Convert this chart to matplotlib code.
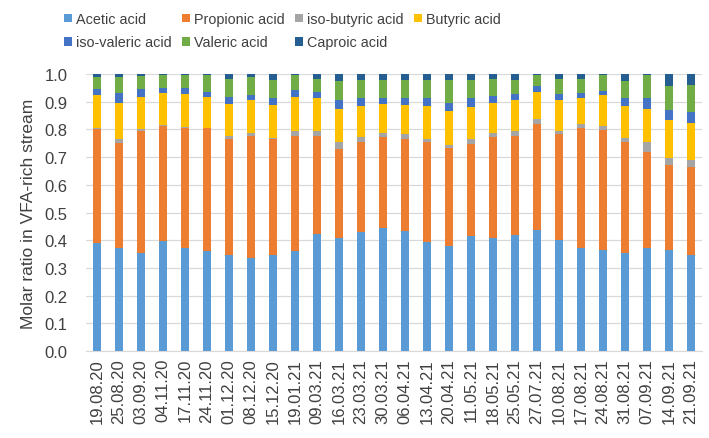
import matplotlib
matplotlib.use("Agg")
import matplotlib.pyplot as plt
import numpy as np

plt.rcParams["font.family"] = ["Liberation Sans", "DejaVu Sans"]

# ---------------------------------------------------------------
# Données
# ---------------------------------------------------------------
dates = ["19.08.20", "25.08.20", "03.09.20", "04.11.20", "17.11.20", "24.11.20",
         "01.12.20", "08.12.20", "15.12.20", "19.01.21", "09.03.21", "16.03.21",
         "23.03.21", "30.03.21", "06.04.21", "13.04.21", "20.04.21", "11.05.21",
         "18.05.21", "25.05.21", "27.07.21", "10.08.21", "17.08.21", "24.08.21",
         "31.08.21", "07.09.21", "14.09.21", "21.09.21"]

acetic = [0.390, 0.372, 0.355, 0.399, 0.372, 0.360, 0.348, 0.336, 0.348, 0.360,
          0.422, 0.410, 0.429, 0.445, 0.433, 0.394, 0.379, 0.415, 0.410, 0.418,
          0.436, 0.402, 0.372, 0.364, 0.355, 0.372, 0.366, 0.348]
propionic = [0.412, 0.380, 0.441, 0.413, 0.434, 0.444, 0.419, 0.442, 0.416, 0.416,
             0.356, 0.320, 0.325, 0.327, 0.333, 0.360, 0.354, 0.333, 0.362, 0.358,
             0.385, 0.380, 0.432, 0.434, 0.399, 0.347, 0.307, 0.315]
iso_butyric = [0.005, 0.014, 0.006, 0.003, 0.003, 0.003, 0.009, 0.010, 0.005, 0.018,
               0.016, 0.024, 0.019, 0.016, 0.016, 0.013, 0.012, 0.016, 0.016, 0.018,
               0.015, 0.014, 0.014, 0.014, 0.016, 0.035, 0.024, 0.025]
butyric = [0.117, 0.131, 0.117, 0.115, 0.118, 0.111, 0.117, 0.117, 0.118, 0.125,
           0.118, 0.119, 0.112, 0.105, 0.106, 0.118, 0.122, 0.117, 0.109, 0.111,
           0.101, 0.109, 0.094, 0.112, 0.115, 0.119, 0.137, 0.134]
iso_valeric = [0.021, 0.034, 0.026, 0.019, 0.021, 0.019, 0.026, 0.020, 0.025, 0.023,
               0.025, 0.034, 0.030, 0.022, 0.024, 0.027, 0.030, 0.031, 0.024, 0.022,
               0.021, 0.022, 0.018, 0.015, 0.027, 0.042, 0.035, 0.042]
valeric = [0.045, 0.059, 0.049, 0.047, 0.048, 0.059, 0.065, 0.063, 0.067, 0.054,
           0.045, 0.069, 0.064, 0.064, 0.067, 0.067, 0.082, 0.067, 0.061, 0.052,
           0.038, 0.055, 0.052, 0.057, 0.064, 0.081, 0.089, 0.096]
caproic = [0.010, 0.010, 0.006, 0.004, 0.004, 0.004, 0.016, 0.012, 0.021, 0.004,
           0.018, 0.024, 0.021, 0.021, 0.021, 0.021, 0.021, 0.021, 0.018, 0.021,
           0.004, 0.018, 0.018, 0.004, 0.024, 0.004, 0.042, 0.040]

series = [
    ("Acetic acid", acetic, "#5B9BD5"),
    ("Propionic acid", propionic, "#ED7D31"),
    ("iso-butyric acid", iso_butyric, "#A5A5A5"),
    ("Butyric acid", butyric, "#FFC000"),
    ("iso-valeric acid", iso_valeric, "#4472C4"),
    ("Valeric acid", valeric, "#70AD47"),
    ("Caproic acid", caproic, "#255E91"),
]

# ---------------------------------------------------------------
# Figure
# ---------------------------------------------------------------
fig = plt.figure(figsize=(7.09, 4.39), dpi=100)
ax = fig.add_axes([0.121, 0.198, 0.869, 0.631])

x = np.arange(len(dates))
bottom = np.zeros(len(dates))
handles = {}
for name, vals, col in series:
    b = ax.bar(x, vals, width=0.38, bottom=bottom, color=col, label=name, zorder=3)
    handles[name] = b
    bottom += np.array(vals)

ax.set_xlim(-0.5, len(dates) - 0.5)
ax.set_ylim(0, 1.0)
ax.set_yticks(np.arange(0, 1.01, 0.1))
ax.set_yticklabels([f"{v:.1f}" for v in np.arange(0, 1.01, 0.1)])
ax.set_xticks(x)
ax.set_xticklabels(dates, rotation=90)

ax.grid(axis="y", color="#D9D9D9", linewidth=0.9, zorder=0)
for s in ["top", "right", "left"]:
    ax.spines[s].set_visible(False)
ax.spines["bottom"].set_color("#D9D9D9")
ax.tick_params(axis="both", length=0, labelsize=12, colors="#404040")
ax.tick_params(axis="y", pad=13)
ax.tick_params(axis="x", pad=5)
ax.set_ylabel("Molar ratio in VFA-rich stream", fontsize=12.5, color="#404040", labelpad=6)

# legende : ordre colonne par colonne pour obtenir 2 lignes
order = ["Acetic acid", "iso-valeric acid", "Propionic acid", "Valeric acid",
         "iso-butyric acid", "Caproic acid", "Butyric acid"]
leg = fig.legend([handles[n] for n in order], order, loc="upper left",
                 bbox_to_anchor=(0.072, 1.0), ncol=4, frameon=False, fontsize=10.4,
                 handlelength=0.55, handleheight=0.55, handletextpad=0.25,
                 columnspacing=0.75, labelspacing=0.65)
for t in leg.get_texts():
    t.set_color("#404040")

fig.savefig("out.png", dpi=100)
